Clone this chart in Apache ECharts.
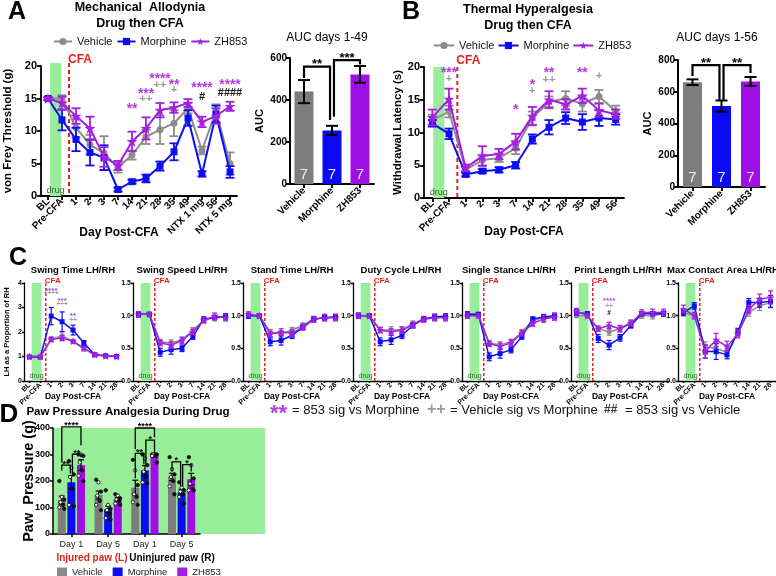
<!DOCTYPE html>
<html><head><meta charset="utf-8">
<script src="https://cdn.jsdelivr.net/npm/echarts/dist/echarts.min.js"></script>
<style>html,body{margin:0;padding:0;background:#fff}#c{width:776px;height:576px}</style>
</head><body><div id="c"></div>
<script>
// ---------------- DATA ----------------
const groups = ['Vehicle', 'Morphine', 'ZH853'];

// Panel A: von Frey
const daysA = ['BL','Pre-CFA','1','2','3','7','14','21','28','35','49','NTX 1 mg','56','NTX 5 mg'];
const vfVehicle     = [15, 15, 10.5, 7.9, 6.6, 4.4, 6.3, 9.1, 10.2, 11.2, 13.5, 7.0, 13.1, 5.0];
const vfVehicleErr  = [0.2, 0.5, 1.5, 1.5, 2.6, 0.8, 0.7, 1.1, 2.2, 2.0, 0.8, 0.6, 1.0, 1.7];
const vfMorphine    = [15, 11.7, 8.7, 6.7, 5.9, 1.0, 2.2, 2.7, 4.6, 6.8, 12.0, 3.4, 12.6, 3.7];
const vfMorphineErr = [0.2, 1.6, 1.8, 2.0, 1.9, 0.3, 0.3, 0.6, 0.7, 1.3, 1.2, 0.4, 1.3, 0.9];
const vfZH853       = [15, 14.3, 12.3, 10.4, 6.0, 4.7, 8.4, 10.4, 13.2, 13.6, 14.3, 11.4, 12.3, 13.8];
const vfZH853Err    = [0.2, 1.0, 1.2, 1.8, 1.5, 0.7, 1.5, 1.7, 1.1, 0.8, 0.6, 0.8, 1.2, 0.7];
// [dayIndex, yValue, text, colourKey]
const vfMarks = [[6,14.0,'**','P'],[7,16.2,'***','P'],[7,15.0,'++','G'],[8,18.5,'****','P'],[8,17.1,'++','G'],
  [9,17.7,'**','P'],[9,16.3,'+','G'],[11,17.1,'****','P'],[11,15.3,'#','K'],[13,17.6,'****','P'],[13,15.9,'####','K']];
const aucA = [440, 255, 522];
const aucAErr = [55, 22, 40];
const aucAN = [7, 7, 7];

// Panel B: thermal
const daysB = ['BL','Pre-CFA','1','2','3','7','14','21','28','35','49','56'];
const thVehicle     = [11.9, 13.2, 4.3, 5.8, 6.1, 7.6, 12.2, 14.7, 15.2, 14.4, 15.5, 13.3];
const thVehicleErr  = [0.8, 0.9, 0.4, 0.8, 0.6, 0.9, 1.0, 0.8, 1.1, 1.2, 1.0, 0.8];
const thMorphine    = [11.4, 9.8, 3.6, 4.1, 4.3, 5.0, 9.0, 10.8, 12.2, 11.6, 12.2, 12.0];
const thMorphineErr = [0.5, 0.8, 0.3, 0.3, 0.4, 0.5, 0.7, 1.1, 0.9, 1.2, 1.2, 0.8];
const thZH853       = [12.3, 15.1, 4.6, 6.4, 6.7, 8.6, 12.5, 15.0, 14.3, 15.6, 13.4, 12.8];
const thZH853Err    = [1.2, 1.6, 0.5, 1.5, 0.8, 1.2, 1.4, 1.3, 0.8, 1.1, 1.0, 0.7];
const thMarks = [[1,19.7,'***','P'],[1,18.2,'+','G'],[5,14.0,'*','P'],[6,17.8,'*','P'],[6,16.4,'+','G'],
  [7,19.6,'**','P'],[7,18.0,'++','G'],[9,19.6,'**','P'],[10,18.7,'+','G']];
const aucB = [660, 510, 665];
const aucBErr = [18, 35, 28];
const aucBN = [7, 7, 7];

// Panel C: gait (LH/RH)
const daysC = ['BL','Pre-CFA','1','2','3','7','14','21','28'];
const gaitTitles = ['Swing Time LH/RH','Swing Speed LH/RH','Stand Time LH/RH','Duty Cycle LH/RH','Single Stance LH/RH','Print Length LH/RH','Max Contact Area LH/RH'];
const swingTimeV = [1.0,1.0,1.7,1.85,1.62,1.3,1.07,1.02,1.0];
const swingTimeM = [0.98,0.98,2.65,2.42,2.08,1.55,1.07,1.03,1.0];
const swingTimeZ = [1.0,1.0,1.7,1.75,1.62,1.35,1.08,1.02,1.0];
const swingTimeErrV = [0.03,0.03,0.1,0.15,0.08,0.07,0.05,0.03,0.03];
const swingTimeErrM = [0.03,0.03,0.35,0.4,0.2,0.1,0.05,0.04,0.03];
const swingTimeErrZ = [0.03,0.03,0.08,0.1,0.06,0.06,0.05,0.03,0.03];
const swingSpeedV = [1.02,1.02,0.6,0.58,0.63,0.78,0.93,0.97,0.98];
const swingSpeedM = [1.02,1.02,0.44,0.48,0.5,0.68,0.95,0.97,0.99];
const swingSpeedZ = [1.02,1.02,0.58,0.55,0.62,0.75,0.93,0.99,0.97];
const standTimeV = [1.0,1.0,0.75,0.72,0.78,0.85,0.95,0.97,0.98];
const standTimeM = [1.0,1.0,0.6,0.62,0.7,0.82,0.95,0.97,0.98];
const standTimeZ = [1.02,1.0,0.72,0.75,0.73,0.83,0.94,0.97,0.97];
const dutyCycleV = [1.0,1.0,0.78,0.78,0.78,0.88,0.95,0.98,0.99];
const dutyCycleM = [1.0,1.0,0.6,0.63,0.7,0.85,0.95,0.98,0.99];
const dutyCycleZ = [1.0,1.0,0.78,0.75,0.78,0.86,0.94,0.97,0.97];
const singleStanceV = [1.02,1.02,0.58,0.55,0.6,0.75,0.92,0.97,0.98];
const singleStanceM = [1.02,1.02,0.37,0.42,0.48,0.68,0.95,0.98,1.0];
const singleStanceZ = [1.0,1.0,0.57,0.53,0.58,0.73,0.88,0.95,0.98];
const printLengthV = [1.0,1.0,0.8,0.75,0.8,0.9,1.0,1.0,1.03];
const printLengthM = [1.05,1.03,0.65,0.55,0.66,0.85,1.03,1.03,1.03];
const printLengthZ = [1.07,1.0,0.8,0.85,0.8,0.88,1.05,1.05,1.05];
const maxContactV = [1.05,1.0,0.52,0.5,0.44,0.75,1.05,1.15,1.2];
const maxContactM = [1.05,1.15,0.45,0.45,0.4,0.75,1.2,1.2,1.22];
const maxContactZ = [1.1,1.0,0.45,0.63,0.53,0.72,1.1,1.25,1.28];
const gaitErrV = [0.03,0.03,0.04,0.05,0.04,0.04,0.04,0.05,0.03];
const gaitErrM = [0.04,0.03,0.06,0.07,0.05,0.04,0.03,0.03,0.04];
const gaitErrZ = [0.04,0.03,0.04,0.05,0.05,0.04,0.04,0.05,0.05];
const maxContactErrV = [0.05,0.04,0.08,0.08,0.06,0.06,0.06,0.07,0.08];
const maxContactErrM = [0.05,0.05,0.1,0.12,0.06,0.05,0.06,0.07,0.09];
const maxContactErrZ = [0.06,0.05,0.1,0.1,0.08,0.06,0.06,0.08,0.1];
const swingTimeMarks = [[2,3.79,'****','P'],[2,3.58,'++++','G'],[3,3.37,'***','P'],[3,3.13,'+++','G'],[4,2.76,'**','P'],[4,2.47,'++','G']];
const printLengthMarks = [[3,1.26,'****','P'],[3,1.14,'++','G'],[3,1.04,'#','K']];

// Panel D: paw pressure
const pawGroups = ['Day 1','Day 5','Day 1','Day 5'];
const pawVehicle = [128, 147, 175, 215];
const pawVehicleErr = [15, 15, 28, 14];
const pawMorphine = [195, 93, 240, 157];
const pawMorphineErr = [25, 12, 18, 12];
const pawZH853 = [260, 130, 295, 207];
const pawZH853Err = [20, 7, 5, 22];
const pawDotsVehicle  = [[200,140,130,120,110,100,95],[205,195,160,145,125,110,90],[280,240,185,150,140,120,110],[290,245,225,215,200,180,150]];
const pawDotsMorphine = [[275,250,225,215,170,110,105],[165,110,95,90,75,60,55],[300,285,260,235,215,195,190],[195,175,165,160,150,140,115]];
const pawDotsZH853    = [[300,300,295,270,240,220,200],[150,145,135,130,125,115,110],[300,300,300,300,300,295,270],[290,260,210,190,170,165,165]];
// [group, seriesA, seriesB, level, legA, legB, text]
const pawSig = [[0,0,2,404,270,335,'****'],[0,0,1,260,240,228,'**'],[0,1,2,301,228,290,'**'],
  [2,0,2,400,320,365,'****'],[2,0,1,304,210,262,'**'],[2,1,2,354,262,305,'*'],
  [3,0,1,272,235,180,'*'],[3,1,2,262,180,236,'*']];

// ---------------- STYLE ----------------
const FONT = "'Liberation Sans', Arial, Helvetica, sans-serif";
const COL = {Vehicle:'#8c8c8c', Morphine:'#0d0df2', ZH853:'#a41fe2'};
const BARCOL = ['#7d7d7d', '#0a0af7', '#a00ee6'];
const MARKCOL = {P:'#b33be3', G:'#9a9a9a', K:'#111111'};
const GREEN = '#98ee98';
const STAR = 'path://M50,2 L61,36 L97,36 L68,57 L79,92 L50,71 L21,92 L32,57 L3,36 L39,36 Z';
const SYM = {Vehicle:'circle', Morphine:'rect', ZH853:STAR};

const option = {animation:false, backgroundColor:'#ffffff', textStyle:{fontFamily:FONT},
  grid:[], xAxis:[], yAxis:[], series:[], legend:[], graphic:[]};
let gridCount = 0;

function errSeries(g, vals, errs, color, cap, lw, z, offsetPx) {
  return {type:'custom', xAxisIndex:g, yAxisIndex:g, z:z, silent:true, clip:false,
    data: vals.map((v,i)=>[i, v, errs[i]]),
    renderItem(params, api){
      const i = api.value(0), v = api.value(1), e = api.value(2);
      const t = api.coord([i, v+e]), b = api.coord([i, v-e]);
      const x = t[0] + (offsetPx||0);
      const st = {stroke:color, lineWidth:lw};
      return {type:'group', children:[
        {type:'line', shape:{x1:x,y1:t[1],x2:x,y2:b[1]}, style:st},
        {type:'line', shape:{x1:x-cap,y1:t[1],x2:x+cap,y2:t[1]}, style:st},
        {type:'line', shape:{x1:x-cap,y1:b[1],x2:x+cap,y2:b[1]}, style:st}]};
    }};
}

function markSeries(g, marks, fs) {
  return {type:'custom', xAxisIndex:g, yAxisIndex:g, z:30, silent:true, clip:false,
    data: marks.map(m=>[m[0], m[1]]),
    renderItem(params, api){
      const m = marks[params.dataIndex];
      const p = api.coord([m[0], m[1]]);
      const big = m[2].indexOf('*') >= 0 ? fs*1.25 : fs;
      const dy = m[2].indexOf('*') >= 0 ? big*0.28 : 0;
      return {type:'text', x:p[0], y:p[1]+dy, style:{text:m[2], fill:MARKCOL[m[3]],
        font:'bold '+big+'px '+FONT, align:'center', verticalAlign:'middle'}};
    }};
}

function bandSeries(g, c) {
  return {type:'custom', xAxisIndex:g, yAxisIndex:g, z:1, silent:true, clip:false,
    data:[[0, c.ymin]],
    renderItem(params, api){
      const bw = api.size([1,0])[0];
      const p0 = api.coord([0, c.ymin]), p1 = api.coord([0, c.ymax]);
      const x0 = p0[0] + c.band[0]*bw, x1 = p0[0] + c.band[1]*bw;
      const xc = api.coord([1, c.ymin])[0] + 0.5*bw;
      return {type:'group', children:[
        {type:'rect', shape:{x:x0, y:p1[1]-c.bandUp, width:x1-x0, height:p0[1]-p1[1]+c.bandUp}, style:{fill:GREEN}},
        {type:'line', shape:{x1:xc, y1:p1[1]-c.bandUp, x2:xc, y2:p0[1]}, style:{stroke:'#e8201e', lineWidth:c.cfaLw, lineDash:c.dash}},
        {type:'text', x:xc-1, y:p1[1]+c.cfaDy, style:{text:'CFA', fill:'#e8201e', font:'bold '+c.cfaFs+'px '+FONT, align:'left', verticalAlign:'bottom'}},
        {type:'text', x:(x0+x1)/2, y:p0[1]-1, style:{text:'drug', fill:'#2f5f2f', font:c.drugFs+'px '+FONT, align:'center', verticalAlign:'bottom'}}
      ]};
    }};
}

function axisBase(lw, tick) {
  return {axisLine:{show:true, onZero:false, lineStyle:{color:'#000', width:lw}},
    axisTick:{show:true, inside:false, length:tick, alignWithLabel:true, lineStyle:{color:'#000', width:lw}},
    splitLine:{show:false}, nameMoveOverlap:false};
}

function addLineGrid(c) {
  const g = gridCount++;
  option.grid.push({left:c.left, top:c.top, width:c.width, height:c.height, containLabel:false});
  option.xAxis.push(Object.assign(axisBase(c.lw, c.tick), {type:'category', gridIndex:g, data:c.cats, boundaryGap:true,
    axisLabel:{rotate:45, interval:0, fontSize:c.xfs, fontWeight:'bold', color:'#000', margin:c.xMargin, fontFamily:FONT},
    name:c.xName, nameLocation:'middle', nameGap:c.xNameGap,
    nameTextStyle:{fontSize:c.xNameFs, fontWeight:'bold', color:'#000', fontFamily:FONT, padding:c.xNamePad||0}}));
  option.yAxis.push(Object.assign(axisBase(c.lw, c.tick), {type:'value', gridIndex:g, min:c.ymin, max:c.ymax, interval:c.interval,
    axisLabel:{fontSize:c.yfs, fontWeight:'bold', color:'#000', margin:c.yMargin, fontFamily:FONT, formatter:c.yfmt},
    name:c.yName||'', nameLocation:'middle', nameGap:c.yNameGap||20,
    nameTextStyle:{fontSize:c.yNameFs||10, fontWeight:'bold', color:'#000', fontFamily:FONT}}));
  option.series.push(bandSeries(g, c));
  groups.forEach((name, k) => {
    option.series.push(errSeries(g, c.vals[k], c.errs[k], COL[name], c.cap, c.elw, 3+k*2, 0));
    option.series.push({type:'line', name:name, xAxisIndex:g, yAxisIndex:g, data:c.vals[k],
      symbol:SYM[name], symbolSize:c.sym[k], showSymbol:true, silent:true,
      lineStyle:{color:COL[name], width:c.llw}, itemStyle:{color:COL[name]}, z:4+k*2, emphasis:{disabled:true}});
  });
  if (c.marks) option.series.push(markSeries(g, c.marks, c.markFs));
}

function bracketSeries(g, br, lw, fs) {
  return {type:'custom', xAxisIndex:g, yAxisIndex:g, z:20, silent:true, clip:false,
    data: br.map(b=>[b.a, b.level]),
    renderItem(params, api){
      const b = br[params.dataIndex];
      const bw = api.size([1,0])[0];
      const pa = api.coord([b.a, b.level]);
      const xa = pa[0] + b.oa*bw, xb = api.coord([b.b, b.level])[0] + b.ob*bw;
      const yl = pa[1], ya = api.coord([b.a, b.ya])[1], yb = api.coord([b.b, b.yb])[1];
      return {type:'group', children:[
        {type:'polyline', shape:{points:[[xa,ya],[xa,yl],[xb,yl],[xb,yb]]}, style:{stroke:'#000', lineWidth:lw, fill:null}},
        {type:'text', x:(xa+xb)/2, y:yl-2, style:{text:b.t, fill:'#000', font:'bold '+fs+'px '+FONT, align:'center', verticalAlign:'middle'}}]};
    }};
}

function addBarGrid(c) {
  const g = gridCount++;
  option.grid.push({left:c.left, top:c.top, width:c.width, height:c.height, containLabel:false});
  option.xAxis.push(Object.assign(axisBase(2, 4), {type:'category', gridIndex:g, data:groups, boundaryGap:true,
    axisLabel:{rotate:45, interval:0, fontSize:10, fontWeight:'bold', color:'#000', margin:5, fontFamily:FONT}}));
  option.yAxis.push(Object.assign(axisBase(2, 4), {type:'value', gridIndex:g, min:0, max:c.ymax, interval:c.interval,
    axisLabel:{fontSize:10, fontWeight:'bold', color:'#000', margin:3, fontFamily:FONT},
    name:'AUC', nameLocation:'middle', nameGap:c.yNameGap,
    nameTextStyle:{fontSize:11, fontWeight:'bold', color:'#000', fontFamily:FONT}}));
  option.series.push({type:'bar', xAxisIndex:g, yAxisIndex:g, barWidth:c.barWidth, silent:true, z:2,
    data: c.vals.map((v,i)=>({value:v, itemStyle:{color:BARCOL[i]}})),
    label:{show:true, position:'insideBottom', distance:2, color:'rgba(255,255,255,0.9)', fontSize:15, fontFamily:FONT,
      formatter: p => String(c.n[p.dataIndex])}});
  option.series.push(errSeries(g, c.vals, c.errs, '#000', 6, 2, 5, 0));
  option.series.push(bracketSeries(g, c.br, 2.2, 13));
}

// ---------------- PANEL A ----------------
addLineGrid({left:41, top:66, width:196, height:130, cats:daysA, ymin:0, ymax:20, interval:5,
  vals:[vfVehicle, vfMorphine, vfZH853], errs:[vfVehicleErr, vfMorphineErr, vfZH853Err],
  band:[0.15, 0.93], bandUp:3, cfaDy:0, cfaLw:2, dash:[4,3], cfaFs:12, drugFs:9,
  lw:1.8, tick:4, xfs:10, yfs:11, xMargin:4, yMargin:4, cap:4.5, elw:1.8, llw:2, sym:[7,7,11],
  xName:'Day Post-CFA', xNameGap:31, xNameFs:12, xNamePad:[0,40,0,0], yName:'von Frey Threshold (g)', yNameGap:27, yNameFs:11.5,
  marks:vfMarks, markFs:11});
addBarGrid({left:290, top:58, width:84, height:126, vals:aucA, errs:aucAErr, n:aucAN, ymax:600, interval:200,
  barWidth:19, yNameGap:25,
  br:[{a:0,b:1,oa:0,ob:-0.07,level:559,ya:505,yb:305,t:'**'},{a:1,b:2,oa:0.07,ob:0,level:590,ya:320,yb:570,t:'***'}]});

// ---------------- PANEL B ----------------
addLineGrid({left:424, top:67, width:200, height:131, cats:daysB, ymin:0, ymax:20, interval:5,
  vals:[thVehicle, thMorphine, thZH853], errs:[thVehicleErr, thMorphineErr, thZH853Err],
  band:[0.06, 0.72], bandUp:0, cfaDy:0, cfaLw:2, dash:[4,3], cfaFs:12, drugFs:9,
  lw:1.8, tick:4, xfs:10, yfs:11, xMargin:4, yMargin:4, cap:4.5, elw:1.8, llw:2, sym:[7,7,11],
  xName:'Day Post-CFA', xNameGap:28, xNameFs:12, yName:'Withdrawal Latency (s)', yNameGap:20, yNameFs:11.5,
  marks:thMarks, markFs:11});
addBarGrid({left:678, top:60, width:87, height:127, vals:aucB, errs:aucBErr, n:aucBN, ymax:800, interval:200,
  barWidth:19, yNameGap:25,
  br:[{a:0,b:1,oa:0,ob:-0.07,level:768,ya:700,yb:550,t:'**'},{a:1,b:2,oa:0.07,ob:0,level:768,ya:550,yb:718,t:'**'}]});

// ---------------- PANEL C ----------------
const gaitLefts = [24, 133, 243, 353, 462, 571, 678];
const gaitVals = [[swingTimeV, swingTimeM, swingTimeZ],[swingSpeedV, swingSpeedM, swingSpeedZ],[standTimeV, standTimeM, standTimeZ],
  [dutyCycleV, dutyCycleM, dutyCycleZ],[singleStanceV, singleStanceM, singleStanceZ],[printLengthV, printLengthM, printLengthZ],
  [maxContactV, maxContactM, maxContactZ]];
gaitVals.forEach((vals, j) => {
  const isSwing = j === 0;
  addLineGrid({left:gaitLefts[j], top:283, width:98, height:98, cats:daysC, ymin:0,
    ymax:isSwing?4:1.5, interval:isSwing?1:0.5, yfmt: isSwing ? (v=>String(v)) : (v=>v.toFixed(1)),
    vals:vals, errs: isSwing ? [swingTimeErrV, swingTimeErrM, swingTimeErrZ] : (j===6 ? [maxContactErrV, maxContactErrM, maxContactErrZ] : [gaitErrV, gaitErrM, gaitErrZ]),
    band:[0.2, 1.1], bandUp:0, cfaDy:2, cfaLw:1.5, dash:[3,2], cfaFs:8, drugFs:7,
    lw:1.3, tick:2, xfs:7, yfs:7, xMargin:3, yMargin:2, cap:2.5, elw:1.2, llw:1.5, sym:[5,5,8],
    xName:'Day Post-CFA', xNameGap:11, xNameFs:8.5,
    yName: isSwing ? 'LH as a Proportion of RH' : '', yNameGap:13, yNameFs:7.5,
    marks: j===0 ? swingTimeMarks : (j===5 ? printLengthMarks : null), markFs:6.5});
});

// ---------------- PANEL D ----------------
(function(){
  const g = gridCount++;
  const barW = 8, step = 9.6;
  option.grid.push({left:53, top:428, width:147, height:106, containLabel:false});
  option.xAxis.push(Object.assign(axisBase(1.5, 3), {type:'category', gridIndex:g, data:pawGroups, boundaryGap:true,
    axisLabel:{fontSize:9, color:'#222', margin:6, fontFamily:FONT, interval:0}}));
  option.yAxis.push(Object.assign(axisBase(1.5, 3), {type:'value', gridIndex:g, min:0, max:400, interval:100,
    axisLabel:{fontSize:9, fontWeight:'bold', color:'#000', margin:3, fontFamily:FONT},
    name:'Paw  Pressure (g)', nameLocation:'middle', nameGap:17,
    nameTextStyle:{fontSize:14.5, fontWeight:'bold', color:'#000', fontFamily:FONT}}));
  const means = [pawVehicle, pawMorphine, pawZH853], errs = [pawVehicleErr, pawMorphineErr, pawZH853Err];
  const dots = [pawDotsVehicle, pawDotsMorphine, pawDotsZH853];
  groups.forEach((name, s) => {
    option.series.push({type:'bar', name:name, xAxisIndex:g, yAxisIndex:g, data:means[s], barWidth:barW, barGap:'20%',
      itemStyle:{color:BARCOL[s]}, silent:true, z:2});
  });
  groups.forEach((name, s) => {
    option.series.push(errSeries(g, means[s], errs[s], '#000', 3, 1.2, 6, (s-1)*step));
  });
  const jitter = [-2.4, 0, 2.4, -1.2, 1.2, -2.4, 2.4];
  const dotData = [], dotMeta = [];
  dots.forEach((perGroup, s) => perGroup.forEach((vals, cat) => vals.forEach((v, k) => {
    dotData.push([cat, v]); dotMeta.push([s, k]);
  })));
  option.series.push({type:'custom', xAxisIndex:g, yAxisIndex:g, z:8, silent:true, data:dotData,
    renderItem(params, api){
      const meta = dotMeta[params.dataIndex];
      const p = api.coord([api.value(0), api.value(1)]);
      const filled = meta[1] % 2 === 0;
      return {type:'circle', shape:{cx:p[0] + (meta[0]-1)*step + jitter[meta[1]], cy:p[1], r:1.7},
        style:{fill: filled ? '#111' : '#ffffff', stroke:'#111', lineWidth:0.9}};
    }});
  option.series.push({type:'custom', xAxisIndex:g, yAxisIndex:g, z:20, silent:true, clip:false,
    data: pawSig.map(b=>[b[0], b[3]]),
    renderItem(params, api){
      const b = pawSig[params.dataIndex];
      const pc = api.coord([b[0], b[3]]);
      const xa = pc[0] + (b[1]-1)*step + (b[2]-b[1] === 1 && b[1]===1 ? 1 : 0);
      const xb = pc[0] + (b[2]-1)*step - (b[2]-b[1] === 1 && b[2]===1 ? 1 : 0);
      const ya = api.coord([b[0], b[4]])[1], yb = api.coord([b[0], b[5]])[1];
      return {type:'group', children:[
        {type:'polyline', shape:{points:[[xa,ya],[xa,pc[1]],[xb,pc[1]],[xb,yb]]}, style:{stroke:'#000', lineWidth:1.3, fill:null}},
        {type:'text', x:(xa+xb)/2, y:pc[1]-1, style:{text:b[6], fill:'#000', font:'bold 9px '+FONT, align:'center', verticalAlign:'middle'}}]};
    }});
})();

// ---------------- LEGENDS ----------------
const legendText = {fontSize:11, color:'#111', fontFamily:FONT};
option.legend.push({left:48, top:31, itemWidth:18, itemHeight:9, itemGap:4, textStyle:legendText, data:groups, selectedMode:false});
option.legend.push({left:428, top:35, itemWidth:20, itemHeight:9, itemGap:3, textStyle:legendText, data:groups, selectedMode:false});
option.legend.push({left:52, top:562, itemWidth:10, itemHeight:9, itemGap:10, icon:'rect', textStyle:{fontSize:9.5, color:'#222', fontFamily:FONT}, data:groups, selectedMode:false});

// ---------------- TEXT ----------------
function txt(x, y, text, font, fill, align) {
  option.graphic.push({type:'text', x:x, y:y, silent:true, z:50,
    style:{text:text, font:font, fill:fill||'#000', align:align||'center', verticalAlign:'middle'}});
}
txt(17, 12, 'A', 'bold 25px '+FONT);
txt(140, 8, 'Mechanical  Allodynia', 'bold 12.5px '+FONT);
txt(140, 24, 'Drug then CFA', 'bold 12.5px '+FONT);
txt(327, 38, 'AUC days 1-49', '12px '+FONT);
txt(411, 12, 'B', 'bold 25px '+FONT);
txt(528, 10, 'Thermal Hyperalgesia', 'bold 12.5px '+FONT);
txt(528, 26, 'Drug then CFA', 'bold 12.5px '+FONT);
txt(717, 38, 'AUC days 1-56', '12px '+FONT);
txt(18, 258, 'C', 'bold 25px '+FONT);
const gaitTitleX = [73, 182, 292, 401, 509, 618, 723];
gaitTitles.forEach((t, j) => txt(gaitTitleX[j], 270, t, 'bold 9.5px '+FONT));
txt(9, 415, 'D', 'bold 26px '+FONT);
txt(128, 412, 'Paw Pressure Analgesia During Drug', 'bold 11.5px '+FONT);
txt(92, 558, 'Injured paw (L)', 'bold 10px '+FONT, '#e3221e');
txt(172, 558, 'Uninjured paw (R)', 'bold 10px '+FONT, '#000');
txt(270, 414, '**', 'bold 22px '+FONT, '#b33be3', 'left');
txt(292, 410, '= 853 sig vs Morphine', '13px '+FONT, '#111', 'left');
txt(427, 410, '++', 'bold 16px '+FONT, '#9a9a9a', 'left');
txt(450, 410, '= Vehicle sig vs Morphine', '13px '+FONT, '#111', 'left');
txt(604, 410, '##', 'bold 12px '+FONT, '#333', 'left');
txt(625, 410, '= 853 sig vs Vehicle', '13px '+FONT, '#111', 'left');
// green background behind panel D plot
option.graphic.push({type:'rect', z:-1, silent:true, shape:{x:53, y:428, width:212, height:106}, style:{fill:GREEN}});

const chart = echarts.init(document.getElementById('c'), null, {renderer:'canvas', width:776, height:576});
chart.setOption(option);
</script>
</body></html>
